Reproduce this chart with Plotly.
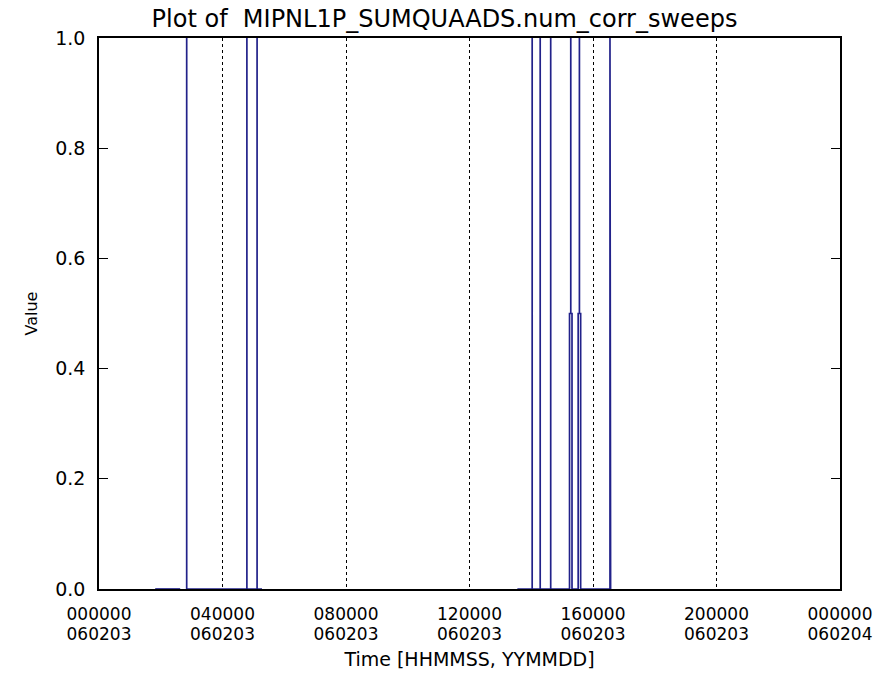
import plotly.graph_objects as go

# Time in decimal hours since 000000 060203; None marks a gap in the record
time_h = [1.82, 2.63, None,
          2.84, 2.84, 2.84,
          4.79, 4.79, 4.79,
          5.12, 5.12, 5.12,
          5.28, None,
          13.55,
          14.03, 14.03, 14.03,
          14.29, 14.29, 14.29,
          14.63, 14.63, 14.63,
          15.24, 15.24, 15.28, 15.28, 15.28, 15.32, 15.32,
          15.52, 15.52, 15.56, 15.56, 15.56, 15.60, 15.60,
          16.55, 16.55, 16.57]
value = [0.0, 0.0, None,
         0.0, 1.0, 0.0,
         0.0, 1.0, 0.0,
         0.0, 1.0, 0.0,
         0.0, None,
         0.0,
         0.0, 1.0, 0.0,
         0.0, 1.0, 0.0,
         0.0, 1.0, 0.0,
         0.0, 0.5, 0.5, 1.0, 0.5, 0.5, 0.0,
         0.0, 0.5, 0.5, 1.0, 0.5, 0.5, 0.0,
         0.0, 1.0, 0.0]

x_tickvals = [0, 4, 8, 12, 16, 20, 24]
x_time_text = ["000000", "040000", "080000", "120000", "160000", "200000", "000000"]
x_date_text = ["060203", "060203", "060203", "060203", "060203", "060203", "060204"]
y_tickvals = [0.0, 0.2, 0.4, 0.6, 0.8, 1.0]
y_ticktext = ["0.0", "0.2", "0.4", "0.6", "0.8", "1.0"]

FONT = "DejaVu Sans"
FS = 19
XFS = 17

fig = go.Figure()
fig.add_trace(go.Scatter(
    x=time_h, y=value, mode="lines",
    line=dict(color="#22228a", width=1.7),
    connectgaps=False, showlegend=False, hoverinfo="skip",
))
# invisible trace to activate the second (date) label axis
fig.add_trace(go.Scatter(x=[0, 24], y=[0, 0], xaxis="x2", mode="lines",
                         line=dict(width=0), showlegend=False, hoverinfo="skip"))

fig.update_layout(
    width=889, height=687,
    margin=dict(l=99, r=49, t=38, b=98),
    paper_bgcolor="white", plot_bgcolor="white",
    font=dict(family=FONT, size=FS, color="black"),
    title=dict(text="Plot of  MIPNL1P_SUMQUAADS.num_corr_sweeps",
               x=0.5, xanchor="center", y=0.9725, yanchor="middle",
               font=dict(family=FONT, size=24, color="black")),
    showlegend=False,
    xaxis=dict(
        range=[0, 24], tickvals=x_tickvals, ticktext=x_time_text,
        showline=True, linecolor="black", linewidth=1.5, mirror=True,
        ticks="", showgrid=True, gridcolor="black", gridwidth=1,
        griddash="3px,3px", zeroline=False,
        ticklabelstandoff=9,
        title=dict(text="Time [HHMMSS, YYMMDD]", standoff=30,
                   font=dict(family=FONT, size=FS)),
        tickfont=dict(family=FONT, size=XFS),
    ),
    xaxis2=dict(
        range=[0, 24], tickvals=x_tickvals, ticktext=x_date_text,
        overlaying="x", side="bottom", anchor="y", matches="x",
        showline=False, showgrid=False, zeroline=False, ticks="",
        ticklabelstandoff=33,
        tickfont=dict(family=FONT, size=XFS),
    ),
    yaxis=dict(
        range=[0, 1], tickvals=y_tickvals, ticktext=y_ticktext,
        showline=True, linecolor="black", linewidth=1.5, mirror="ticks",
        ticks="inside", ticklen=9, tickcolor="black", tickwidth=1,
        showgrid=False, zeroline=False, ticklabelstandoff=8,
        title=dict(text="Value", standoff=14, font=dict(family=FONT, size=16)),
        tickfont=dict(family=FONT, size=FS),
    ),
)

fig.write_html("out.html", config={"displayModeBar": False},
               post_script="document.body.style.margin='0px';")
